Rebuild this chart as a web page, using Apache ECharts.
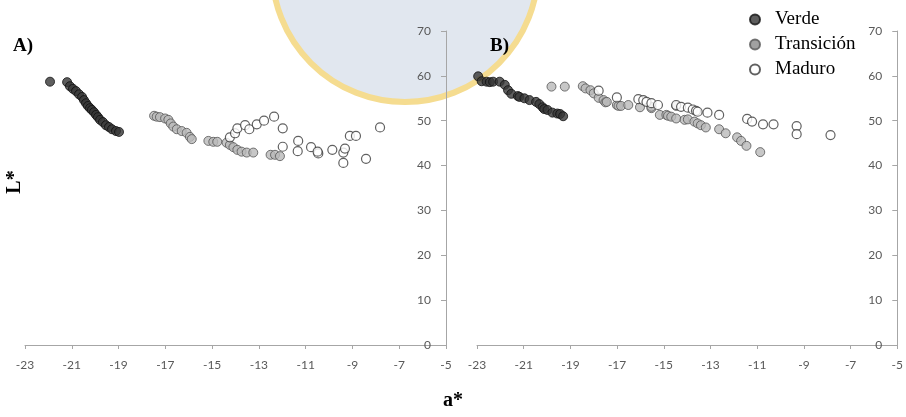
<!DOCTYPE html>
<html>
<head>
<meta charset="utf-8">
<script src="https://cdn.jsdelivr.net/npm/echarts@6/dist/echarts.min.js"></script>
<style>
  html, body { margin: 0; padding: 0; background: #fff; }
  #chart { width: 906px; height: 417px; }
</style>
</head>
<body>
<div id="chart"></div>
<script>
// a*, L* pairs
const verdeA = [
  [-21.93, 58.7], [-21.20, 58.6], [-21.08, 57.7], [-20.95, 57.1], [-20.82, 56.6],
  [-20.69, 55.9], [-20.56, 55.3], [-20.48, 54.6], [-20.39, 53.9], [-20.31, 53.3],
  [-20.22, 52.8], [-20.14, 52.4], [-20.05, 51.9], [-19.96, 51.3], [-19.88, 50.8],
  [-19.79, 50.2], [-19.67, 49.7], [-19.54, 49.0], [-19.41, 48.6], [-19.28, 48.1],
  [-19.11, 47.7], [-18.98, 47.5]
];
const transicionA = [
  [-17.48, 51.1], [-17.37, 50.9], [-17.23, 50.8], [-17.01, 50.5], [-16.87, 50.2],
  [-16.77, 49.4], [-16.66, 48.7], [-16.51, 48.1], [-16.30, 47.7], [-16.09, 47.3],
  [-15.95, 46.4], [-15.87, 45.9],
  [-15.16, 45.5], [-14.95, 45.3], [-14.78, 45.3], [-14.38, 45.1], [-14.24, 44.6],
  [-14.09, 44.1], [-13.92, 43.5], [-13.74, 43.1], [-13.52, 42.9], [-13.24, 42.9],
  [-12.50, 42.4], [-12.31, 42.4], [-12.10, 42.1]
];
const maduroA = [
  [-14.24, 46.3], [-14.02, 47.2], [-13.92, 48.3], [-13.59, 49.0], [-13.41, 48.1],
  [-13.09, 49.2], [-12.78, 50.0], [-12.35, 50.9], [-11.98, 48.3], [-11.98, 44.2],
  [-11.32, 45.5], [-11.34, 43.2], [-10.77, 44.1], [-10.46, 42.7], [-10.49, 43.1],
  [-9.86, 43.5], [-9.39, 42.9], [-9.32, 43.8], [-9.39, 40.6], [-9.11, 46.6],
  [-8.85, 46.6], [-8.42, 41.5], [-7.82, 48.5]
];
const verdeB = [
  [-22.95, 59.9], [-22.80, 58.8], [-22.59, 58.7], [-22.45, 58.6], [-22.31, 58.7],
  [-22.03, 58.7], [-21.81, 58.0], [-21.67, 56.8], [-21.53, 56.0], [-21.25, 55.5],
  [-21.18, 55.3], [-20.97, 55.0], [-20.75, 54.6], [-20.47, 54.2], [-20.33, 53.7],
  [-20.19, 53.0], [-20.12, 52.6], [-19.98, 52.4], [-19.77, 51.8], [-19.56, 51.6],
  [-19.44, 51.5], [-19.31, 51.0]
];
const transicionB = [
  [-19.81, 57.6], [-19.24, 57.6], [-18.47, 57.7], [-18.35, 57.2], [-18.14, 56.8],
  [-18.00, 56.1], [-17.79, 55.1], [-17.58, 54.6], [-17.50, 54.1], [-17.44, 54.2],
  [-17.01, 53.5], [-16.94, 53.3], [-16.83, 53.3], [-16.52, 53.5], [-16.02, 53.0],
  [-15.53, 52.8], [-15.53, 53.1], [-15.17, 51.3], [-14.89, 51.3], [-14.82, 51.1],
  [-14.68, 50.9], [-14.47, 50.5], [-14.47, 53.3], [-14.11, 50.2], [-13.97, 50.3],
  [-13.69, 49.8], [-13.55, 49.4], [-13.41, 49.0], [-13.20, 48.5], [-12.63, 48.1],
  [-12.35, 47.2], [-11.86, 46.3], [-11.69, 45.5], [-11.46, 44.4], [-10.87, 43.0]
];
const maduroB = [
  [-17.79, 56.7], [-17.01, 55.2], [-16.09, 54.8], [-15.88, 54.6], [-15.74, 54.2],
  [-15.53, 53.9], [-15.25, 53.5], [-14.47, 53.5], [-14.26, 53.1], [-13.97, 52.9],
  [-13.76, 52.5], [-13.62, 52.2], [-13.55, 52.0], [-13.13, 51.8], [-12.63, 51.3],
  [-11.43, 50.4], [-11.22, 49.8], [-10.75, 49.2], [-10.30, 49.2], [-9.31, 48.8],
  [-9.31, 47.0], [-7.86, 46.8]
];

const xMin = -23, xMax = -5, xStep = 2;
const yMin = 0, yMax = 70, yStep = 10;

const sans = 'Lato';
const serif = 'Liberation Serif';

const styles = {
  'Verde': { color: '#363636', borderColor: '#111', borderWidth: 1 },
  'Transición': { color: '#b9b9b9', borderColor: '#555', borderWidth: 1 },
  'Maduro': { color: '#ffffff', borderColor: '#3a3a3a', borderWidth: 1.2 }
};

function scatter(name, data, idx) {
  return {
    name: name,
    type: 'scatter',
    xAxisIndex: idx,
    yAxisIndex: idx,
    symbol: 'circle',
    symbolSize: 9,
    data: data,
    itemStyle: styles[name],
    emphasis: { disabled: true }
  };
}

function xAx(idx) {
  return {
    type: 'value', gridIndex: idx,
    min: xMin, max: xMax, interval: xStep,
    axisLine: { onZero: false, lineStyle: { color: '#a6a6a6', width: 1 } },
    axisTick: { show: true, length: 4, lineStyle: { color: '#a6a6a6' } },
    axisLabel: { color: '#595959', fontFamily: sans, fontSize: 12, margin: 14 },
    splitLine: { show: false }
  };
}

function yAx(idx) {
  return {
    type: 'value', gridIndex: idx, position: 'right',
    min: yMin, max: yMax, interval: yStep,
    axisLine: { show: true, lineStyle: { color: '#a6a6a6', width: 1 } },
    axisTick: { show: true, inside: true, length: 5, lineStyle: { color: '#a6a6a6' } },
    axisLabel: { inside: true, color: '#595959', fontFamily: sans, fontSize: 12, margin: 15 },
    splitLine: { show: false }
  };
}

const chart = echarts.init(document.getElementById('chart'));
chart.setOption({
  animation: false,
  backgroundColor: '#fff',
  grid: [
    { left: 25, top: 31, width: 421, height: 314 },
    { left: 477, top: 31, width: 425, height: 314 }
  ],
  xAxis: [xAx(0), xAx(1)],
  yAxis: [yAx(0), yAx(1)],
  legend: {
    orient: 'vertical',
    left: 744, top: 5,
    itemGap: 6,
    itemWidth: 30, itemHeight: 10,
    icon: 'circle',
    textStyle: { fontFamily: serif, fontSize: 19, color: '#000' },
    data: [
      { name: 'Verde' },
      { name: 'Transición', itemStyle: { color: '#8a8a8a', borderColor: '#555' } },
      { name: 'Maduro' }
    ]
  },
  graphic: [
    {
      // faint seal watermark behind the plots
      type: 'circle', z: -10, silent: true,
      shape: { cx: 405, cy: -31, r: 133 },
      style: { fill: '#e1e7ef', stroke: '#f5dc90', lineWidth: 6 }
    },
    {
      type: 'text', left: 13, top: 37, silent: true,
      style: { text: 'A)', font: 'bold 19px "Liberation Serif"', fill: '#000',
        shadowColor: 'rgba(200,140,40,0.6)', shadowBlur: 2 }
    },
    {
      type: 'text', left: 490, top: 37, silent: true,
      style: { text: 'B)', font: 'bold 19px "Liberation Serif"', fill: '#000',
        shadowColor: 'rgba(200,140,40,0.6)', shadowBlur: 2 }
    },
    {
      type: 'text', x: 15, y: 182, rotation: Math.PI / 2, silent: true,
      style: { text: 'L*', font: 'bold 20px "Liberation Serif"', fill: '#000',
        textAlign: 'center', textVerticalAlign: 'middle' }
    },
    {
      type: 'text', x: 453, y: 401, silent: true,
      style: { text: 'a*', font: 'bold 20px "Liberation Serif"', fill: '#000',
        textAlign: 'center', textVerticalAlign: 'middle' }
    }
  ],
  series: [
    scatter('Verde', verdeA, 0),
    scatter('Transición', transicionA, 0),
    scatter('Maduro', maduroA, 0),
    scatter('Verde', verdeB, 1),
    scatter('Transición', transicionB, 1),
    scatter('Maduro', maduroB, 1)
  ]
});
</script>
</body>
</html>
